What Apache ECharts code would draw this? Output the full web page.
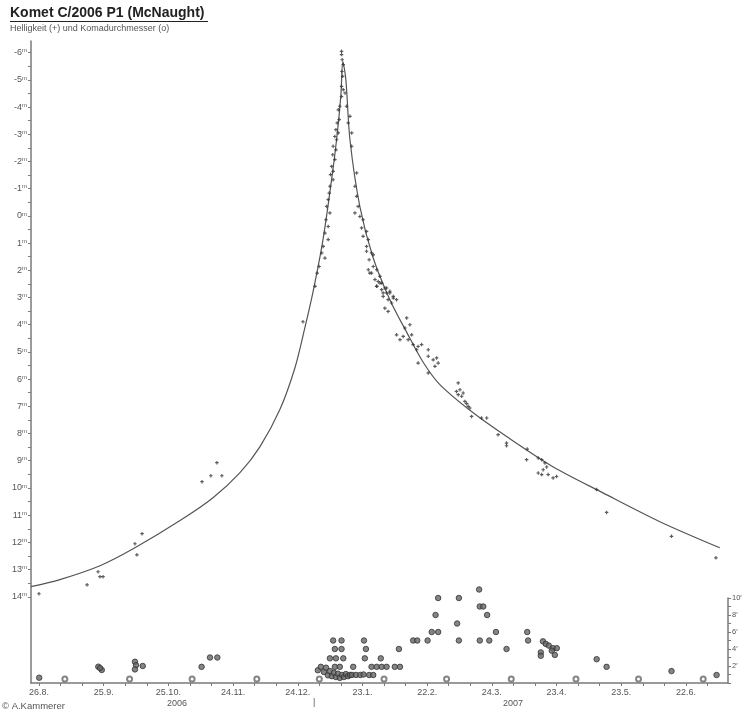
<!DOCTYPE html>
<html><head><meta charset="utf-8">
<script src="https://cdn.jsdelivr.net/npm/echarts@6/dist/echarts.min.js"></script>
<style>html,body{margin:0;padding:0;background:#fff}#c{width:748px;height:715px}</style>
</head><body><div id="c"></div>
<script>
// x values: days since 26.8.2006
const dateLabels = ['26.8.','25.9.','25.10.','24.11.','24.12.','23.1.','22.2.','24.3.','23.4.','23.5.','22.6.'];
const dateLabelDays = [0,30,60,90,120,150,180,210,240,270,300];
const magTicks = [-6,-5,-4,-3,-2,-1,0,1,2,3,4,5,6,7,8,9,10,11,12,13,14];
const comaTicks = [2,4,6,8,10];
const fullMoonDays = [12,42,71,101,130,160,189,219,249,278,308];

const fitCurve = [
 [-3.7,13.63],[9.7,13.37],[28.3,12.86],[44.5,12.20],[65.4,11.20],[80.7,10.36],[93.2,9.44],
 [102.5,8.48],[111.7,7.12],[118.7,5.58],[123.3,4.11],[127.0,2.82],[131.7,0.87],[136.3,-1.70],
 [138.6,-3.24],[140.0,-4.46],[140.9,-5.67],[142.3,-5.01],[144.2,-2.80],[148.8,-0.34],[154.8,1.50],
 [162.7,3.08],[170.6,4.29],[178.0,5.36],[185.9,6.20],[201.2,7.23],[217.0,8.12],[238.3,9.22],
 [261.5,10.18],[287.9,11.24],[315.7,12.20]
];

const magObs = [
 [0,13.89],[22.3,13.56],[27.4,13.08],[28.3,13.26],[29.7,13.26],[44.5,12.05],[45.4,12.46],[47.8,11.68],
 [75.6,9.77],[79.7,9.55],[82.5,9.07],[84.8,9.55],[122.4,3.89],
 [140.3,-6.05],[140.3,-5.93],[140.6,-5.74],[141.1,-5.56],[140.5,-5.31],[140.8,-5.13],[140.3,-4.76],
 [141.1,-4.64],[141.9,-4.52],[140.3,-4.39],[139.5,-4.03],[138.8,-3.90],[139.2,-3.54],[138.3,-3.42],
 [137.7,-3.17],[138.8,-3.05],[137.2,-2.92],[138.0,-2.80],[136.4,-2.56],[137.7,-2.43],[136.2,-2.25],
 [137.2,-2.07],[135.7,-1.82],[136.4,-1.64],[135.2,-1.52],[136.4,-1.33],[134.9,-1.09],[134.6,-0.84],
 [134.1,-0.60],[133.4,-0.35],[134.9,-0.11],[133.1,0.14],[134.1,0.39],[132.6,0.63],[134.1,0.87],
 [131.8,1.12],[131.1,1.36],[132.6,1.55],[129.9,1.86],[129.0,2.10],[128.0,2.59],
 [142.6,-4.03],[144.2,-3.66],[143.4,-3.42],[145.0,-3.05],[145.0,-2.56],[147.3,-1.58],[146.5,-1.09],
 [147.3,-0.72],[148.0,-0.35],[146.5,-0.11],[148.8,0.02],[150.3,0.14],[149.6,0.44],[151.9,0.57],
 [150.3,0.75],[152.7,0.87],[151.9,1.12],[154.2,1.36],[153.1,1.61],[155.0,1.86],[156.6,1.98],
 [154.2,2.10],[158.1,2.22],[158.9,2.47],[156.6,2.59],[161.2,2.65],[159.6,2.83],[162.7,2.83],[164.3,2.96],
 [151.9,1.30],[155.0,1.43],[152.7,1.98],[153.4,2.10],[155.8,2.34],[157.3,2.41],[158.1,2.47],[156.6,2.59],
 [158.9,2.71],[160.4,2.65],[161.2,2.83],[162.7,2.77],[159.6,2.96],[161.9,3.08],[164.3,3.02],[163.5,3.20],
 [165.8,3.08],[160.4,3.39],[161.9,3.51],[170.5,3.75],[172.0,4.00],[169.7,4.12],[165.8,4.37],[167.4,4.55],
 [168.9,4.43],[172.8,4.37],[171.2,4.55],[173.5,4.73],[175.8,4.80],[177.4,4.73],[180.5,4.92],[175.1,4.92],
 [180.5,5.16],[182.8,5.29],[184.4,5.22],[185.1,5.41],[183.6,5.53],[175.8,5.41],[180.5,5.77],
 [194.4,6.14],[195.2,6.39],[196.0,6.63],[196.7,6.51],[197.5,6.82],[199.0,7.00],[193.6,6.45],[200.6,7.37],
 [205.2,7.43],[207.6,7.43],[212.9,8.04],[216.8,8.35],[194.4,6.57],[198.3,6.90],[199.8,7.06],
 [216.8,8.45],[226.4,8.57],[226.1,8.96],[231.5,8.90],[233.1,8.96],[234.6,9.08],[235.4,9.23],[233.8,9.33],
 [231.5,9.45],[233.1,9.51],[236.1,9.51],[238.4,9.63],[240.0,9.58],[258.6,10.06],[263.2,10.90],
 [293.3,11.78],[313.9,12.57]
];

const comaObs = [
 [0.1,0.62],[27.5,1.92],[29.1,1.53],[28.3,1.76],[44.5,2.5],[45.0,2.1],[44.5,1.6],[48.1,2.0],
 [75.4,1.9],[79.3,3.0],[82.7,3.0],
 [129.3,1.5],[130.7,1.9],[132.1,1.3],[133.1,1.8],[134.0,0.9],[134.9,1.4],[135.8,0.8],[136.8,1.2],
 [137.7,0.7],[138.6,1.1],[139.5,0.6],[140.5,0.95],[141.4,0.7],[142.3,1.05],[143.3,0.8],[144.2,0.95],
 [145.1,0.95],[147.0,0.95],[149.0,0.95],[150.5,1.0],
 [136.4,5.0],[140.3,5.0],[150.7,5.0],[137.2,4.0],[140.3,4.0],[151.6,4.0],[166.9,4.0],
 [134.9,2.9],[137.7,2.9],[141.1,2.9],[151.1,2.9],[158.5,2.9],
 [145.7,1.9],[137.2,1.9],[139.5,1.9],[154.2,1.9],[156.6,1.9],[158.9,1.9],[161.2,1.9],[165.0,1.9],[167.4,1.9],
 [153.1,0.94],[155.0,0.94],
 [173.5,5.0],[175.4,5.0],[180.2,5.0],[194.7,5.0],[204.4,5.0],[208.8,5.0],[226.8,5.0],
 [182.1,6.0],[185.1,6.0],[211.9,6.0],[226.4,6.0],[193.9,7.0],[183.9,8.0],[207.8,8.0],
 [204.4,9.0],[206.0,9.0],[185.1,10.0],[194.7,10.0],[204.1,11.0],[216.8,4.0],
 [233.7,4.9],[235.0,4.6],[236.4,4.4],[238.3,4.1],[240.1,4.1],[237.8,3.8],[232.7,3.6],[232.7,3.2],[239.2,3.3],
 [258.6,2.8],[263.2,1.9],[293.3,1.4],[314.2,0.94]
];

const X_MIN = -3.7, X_MAX = 319.5;
const dayTicks = []; for (let d = 0; d <= 310; d += 10) dayTicks.push(d);
const magMinor = []; for (let m = -6; m <= 14; m += 0.5) magMinor.push(m);

const axisColor = '#7a7a7a';
const txt = '#555';
const font = 'Liberation Sans, Arial, sans-serif';
const plus = 'path://M1,0H2V1H3V2H2V3H1V2H0V1H1Z';

const chart = echarts.init(document.getElementById('c'), null, {renderer: 'canvas'});
chart.setOption({
  animation: false,
  backgroundColor: '#fff',
  textStyle: {fontFamily: font},
  grid: [
    {left: 31, right: 20, top: 41, bottom: 32},
    {left: 31, right: 20, top: 598, bottom: 32}
  ],
  xAxis: [
    {gridIndex: 0, type: 'value', min: X_MIN, max: X_MAX,
     axisLine: {show: true, onZero: false, lineStyle: {color: axisColor, width: 1.5}},
     axisTick: {show: true, customValues: dayTicks, length: 3, lineStyle: {color: axisColor}},
     axisLabel: {show: true, customValues: dateLabelDays, margin: 5, fontSize: 9, color: txt,
       formatter: v => dateLabels[dateLabelDays.indexOf(Math.round(v))] || ''},
     splitLine: {show: false}},
    {gridIndex: 1, type: 'value', min: X_MIN, max: X_MAX, show: false}
  ],
  yAxis: [
    {gridIndex: 0, type: 'value', inverse: true, min: -6.43, max: 17.17,
     axisLine: {show: true, onZero: false, lineStyle: {color: axisColor, width: 1.5}},
     axisTick: {show: true, customValues: magMinor, length: 3, lineStyle: {color: axisColor}},
     axisLabel: {show: true, customValues: magTicks, margin: 4, color: txt,
       formatter: v => '{n|' + v + '}{s|m}',
       rich: {n: {fontSize: 9, color: txt, fontFamily: font}, s: {fontSize: 6, color: txt, verticalAlign: 'top', padding: [0,0,4,0], fontFamily: font}}},
     splitLine: {show: false}},
    {gridIndex: 1, type: 'value', position: 'right', min: 0, max: 10,
     axisLine: {show: true, onZero: false, lineStyle: {color: axisColor, width: 1.5}},
     axisTick: {show: true, customValues: [0,1,2,3,4,5,6,7,8,9,10], length: 3, inside: false, lineStyle: {color: axisColor}},
     axisLabel: {show: true, customValues: comaTicks, margin: 4, fontSize: 7.5, color: txt, formatter: v => v + '′'},
     splitLine: {show: false}}
  ],
  series: [
    {type: 'line', xAxisIndex: 0, yAxisIndex: 0, data: fitCurve, smooth: 0.3, showSymbol: false,
     lineStyle: {color: '#555', width: 1.2}, z: 2},
    {type: 'scatter', xAxisIndex: 0, yAxisIndex: 0, data: magObs, symbol: plus, symbolSize: 3.5,
     itemStyle: {color: '#333'}, z: 3},
    {type: 'scatter', xAxisIndex: 1, yAxisIndex: 1, data: comaObs, symbol: 'circle', symbolSize: 5.5, clip: false,
     itemStyle: {color: '#666', borderColor: '#333', borderWidth: 1}, z: 3},
    {type: 'scatter', xAxisIndex: 1, yAxisIndex: 1, data: fullMoonDays.map(d => [d, 0]), symbol: 'emptyCircle',
     symbolSize: 5, symbolOffset: [0, -4], clip: false, itemStyle: {color: '#666', borderColor: '#666', borderWidth: 1}, z: 4}
  ],
  graphic: [
    {type: 'text', left: 10, top: 6, style: {text: 'Komet C/2006 P1 (McNaught)', font: 'bold 14px ' + font, fill: '#222'}},
    {type: 'line', shape: {x1: 10, y1: 21.5, x2: 208, y2: 21.5}, style: {stroke: '#222', lineWidth: 1.2}},
    {type: 'text', left: 10, top: 24, style: {text: 'Helligkeit (+) und Komadurchmesser (o)', font: '9px ' + font, fill: '#555'}},
    {type: 'text', left: 167, top: 699, style: {text: '2006', font: '9px ' + font, fill: txt}},
    {type: 'text', left: 313, top: 698, style: {text: '|', font: '9px ' + font, fill: txt}},
    {type: 'text', left: 503, top: 699, style: {text: '2007', font: '9px ' + font, fill: txt}},
    {type: 'text', left: 2, top: 701, style: {text: '© A.Kammerer', font: '9.5px ' + font, fill: txt}}
  ]
});
</script></body></html>
